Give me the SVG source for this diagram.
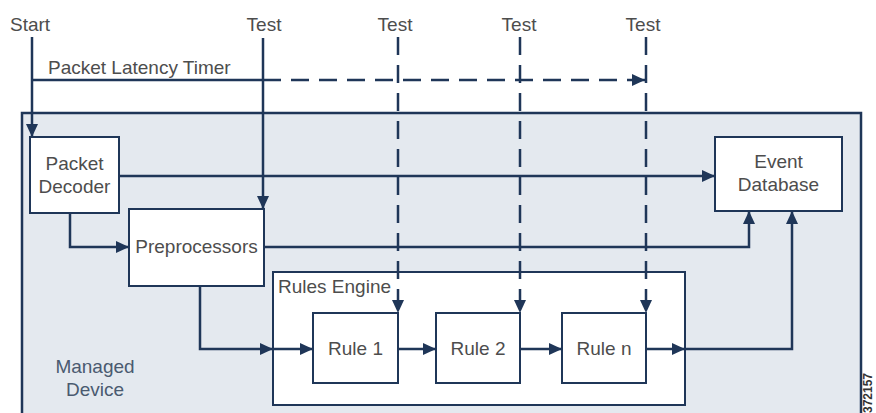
<svg xmlns="http://www.w3.org/2000/svg" width="876" height="413" viewBox="0 0 876 413">
<style>
text{font-family:"Liberation Sans",Arial,sans-serif;font-size:19px;fill:#4d4d4d}
.c{text-anchor:middle}
.box{fill:#ffffff;stroke:#1f3658;stroke-width:2}
.ln{fill:none;stroke:#1f3658;stroke-width:2.5}
.dash{stroke-dasharray:18 10}
.md{fill:#4a5a70}
</style>
<defs>
<marker id="ah" markerUnits="userSpaceOnUse" markerWidth="14" markerHeight="14" refX="13" refY="7" orient="auto">
<path d="M0,1 L13,7 L0,13 z" fill="#1f3658"/>
</marker>
</defs>
<rect width="876" height="413" fill="#ffffff"/>
<g id="managed-device">
<rect x="22" y="113" width="839" height="320" fill="#e4e9ef" stroke="#1f3658" stroke-width="2.5"/>
<text class="c md" x="95" y="373">Managed</text>
<text class="c md" x="95" y="396">Device</text>
</g>
<g id="labels">
<text x="10" y="31">Start</text>
<text class="c" x="264" y="31">Test</text>
<text class="c" x="395" y="31">Test</text>
<text class="c" x="519" y="31">Test</text>
<text class="c" x="643" y="31">Test</text>
<text x="48" y="74">Packet Latency Timer</text>
<text x="0" y="0" transform="translate(872,413) rotate(-90)" style="font-size:12px;font-weight:bold;fill:#333">372157</text>
</g>
<g id="rules-engine">
<rect class="box" x="273" y="272" width="412" height="133"/>
<text x="278" y="293">Rules Engine</text>
</g>
<g id="packet-decoder">
<rect class="box" x="30" y="137" width="89" height="76"/>
<text class="c" x="74.5" y="170">Packet</text>
<text class="c" x="74.5" y="193">Decoder</text>
</g>
<g id="preprocessors">
<rect class="box" x="129" y="209" width="135" height="77"/>
<text class="c" x="196.5" y="253">Preprocessors</text>
</g>
<g id="event-database">
<rect class="box" x="715" y="137" width="127" height="74"/>
<text class="c" x="778.5" y="168">Event</text>
<text class="c" x="778.5" y="191">Database</text>
</g>
<g id="rule-1">
<rect class="box" x="313" y="313" width="85" height="70"/>
<text class="c" x="355.5" y="355">Rule 1</text>
</g>
<g id="rule-2">
<rect class="box" x="436" y="313" width="84" height="70"/>
<text class="c" x="478" y="355">Rule 2</text>
</g>
<g id="rule-n">
<rect class="box" x="562" y="313" width="84" height="70"/>
<text class="c" x="604" y="355">Rule n</text>
</g>
<g id="connectors">
<path class="ln" d="M32,37 V137" marker-end="url(#ah)"/>
<path class="ln" d="M32,80 H263"/>
<path class="ln dash" d="M263,80 H645" marker-end="url(#ah)"/>
<path class="ln" d="M263,38 V209" marker-end="url(#ah)"/>
<path class="ln dash" d="M398,37 V313" marker-end="url(#ah)"/>
<path class="ln dash" d="M520,37 V313" marker-end="url(#ah)"/>
<path class="ln dash" d="M646,37 V313" marker-end="url(#ah)"/>
<path class="ln" d="M119,176 H715" marker-end="url(#ah)"/>
<path class="ln" d="M70,213 V247 H129" marker-end="url(#ah)"/>
<path class="ln" d="M264,247 H749 V211" marker-end="url(#ah)"/>
<path class="ln" d="M200,286 V349 H273" marker-end="url(#ah)"/>
<path class="ln" d="M273,349 H313" marker-end="url(#ah)"/>
<path class="ln" d="M398,349 H436" marker-end="url(#ah)"/>
<path class="ln" d="M520,349 H562" marker-end="url(#ah)"/>
<path class="ln" d="M646,349 H685" marker-end="url(#ah)"/>
<path class="ln" d="M685,349 H792 V211" marker-end="url(#ah)"/>
</g>
</svg>
